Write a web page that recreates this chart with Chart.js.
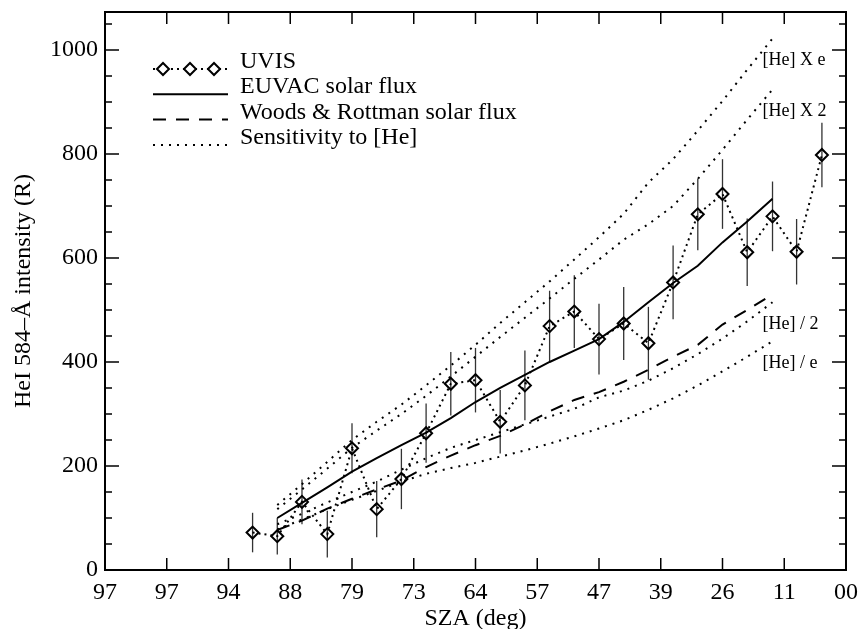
<!DOCTYPE html>
<html>
<head>
<meta charset="utf-8">
<script src="https://cdn.jsdelivr.net/npm/chart.js@4"></script>
<style>
  html, body { margin: 0; padding: 0; background: #fff; }
  #wrap { width: 859px; height: 629px; }
</style>
</head>
<body>
<div id="wrap"><canvas id="heChart" width="859" height="629"></canvas></div>
<script>
// ----- DATA -----
// x axis is an index scale (0..12) labelled with the SZA values
const xTickLabels = ["97", "97", "94", "88", "79", "73", "64", "57", "47", "39", "26", "11", "00"];

// UVIS observations
const uvisX = [2.39, 2.79, 3.19, 3.60, 4.00, 4.40, 4.80, 5.20, 5.60, 6.00, 6.40, 6.80,
               7.20, 7.60, 8.00, 8.40, 8.80, 9.20, 9.60, 10.00, 10.40, 10.81, 11.20, 11.61];
const uvisY = [72, 65, 131, 69, 234, 117, 175, 263, 358, 365, 285, 355,
               469, 497, 444, 474, 436, 553, 684, 723, 611, 680, 612, 798];
const uvisErr = [38, 35, 43, 45, 48, 54, 58, 57, 61, 62, 61, 67,
                 68, 70, 68, 70, 70, 71, 69, 67, 65, 67, 63, 62];

// model curves
const modelX = [2.79, 3.19, 3.60, 4.00, 4.40, 4.80, 5.20, 5.60, 6.00, 6.40, 6.80,
                7.20, 7.60, 8.00, 8.40, 8.80, 9.20, 9.60, 10.00, 10.40, 10.81];
const euvac = [100, 129, 159, 189, 215, 240, 264, 292, 323, 350, 375,
               400, 422, 444, 477, 515, 552, 585, 630, 670, 714];
const woodsRottman = [77, 95, 118, 137, 155, 172, 198, 220, 240, 258, 280,
                      305, 327, 342, 362, 385, 410, 433, 472, 500, 530];
const heTimesE = [125, 165, 208, 250, 285, 318, 355, 393, 433, 475, 515,
                  555, 597, 640, 685, 745, 790, 845, 902, 962, 1022];
const heTimes2 = [117, 155, 195, 235, 268, 300, 335, 372, 410, 448, 485,
                  522, 560, 597, 635, 665, 700, 752, 808, 866, 924];
const heOver2 = [88, 108, 130, 150, 170, 193, 215, 235, 250, 265, 280,
                 295, 310, 332, 345, 364, 388, 415, 445, 478, 515];
const heOverE = [78, 97, 117, 135, 152, 170, 185, 196, 206, 218, 230,
                 243, 257, 272, 288, 308, 330, 355, 382, 410, 440];
const sensLabels = ["[He] X e", "[He] X 2", "[He] / 2", "[He] / e"];

const yMax = 1073;

function pairs(xs, ys) {
    return xs.map((x, i) => ({ x: x, y: ys[i] }));
}

const SERIF = '"Liberation Serif", "DejaVu Serif", serif';
const DOT = [2, 6];

// ----- PLUGIN: frame, inward ticks, error bars, legend, curve labels -----
const paperPlot = {
    id: "paperPlot",
    beforeDatasetsDraw(chart) {
        const ctx = chart.ctx;
        const xs = chart.scales.x, ys = chart.scales.y;
        ctx.save();
        ctx.strokeStyle = "#333";
        ctx.lineWidth = 1.3;
        uvisX.forEach((x, i) => {
            const px = xs.getPixelForValue(x);
            ctx.beginPath();
            ctx.moveTo(px, ys.getPixelForValue(uvisY[i] - uvisErr[i]));
            ctx.lineTo(px, ys.getPixelForValue(uvisY[i] + uvisErr[i]));
            ctx.stroke();
        });
        ctx.restore();
    },
    afterDraw(chart) {
        const ctx = chart.ctx;
        const a = chart.chartArea;
        const xs = chart.scales.x, ys = chart.scales.y;
        ctx.save();

        // frame
        ctx.strokeStyle = "#000";
        ctx.lineWidth = 2;
        ctx.strokeRect(a.left, a.top, a.right - a.left, a.bottom - a.top);

        // ticks pointing inward
        ctx.lineWidth = 1.5;
        ctx.beginPath();
        for (let v = xs.min; v <= xs.max; v++) {
            const px = xs.getPixelForValue(v);
            ctx.moveTo(px, a.bottom); ctx.lineTo(px, a.bottom - 12);
            ctx.moveTo(px, a.top); ctx.lineTo(px, a.top + 12);
        }
        for (let v = 0; v <= ys.max; v += 50) {
            const py = ys.getPixelForValue(v);
            const len = v % 200 === 0 ? 14 : 7;
            ctx.moveTo(a.left, py); ctx.lineTo(a.left + len, py);
            ctx.moveTo(a.right, py); ctx.lineTo(a.right - len, py);
        }
        ctx.stroke();

        // labels at the end of the sensitivity curves
        ctx.fillStyle = "#000";
        ctx.font = "18px " + SERIF;
        ctx.textBaseline = "middle";
        ctx.textAlign = "left";
        [heTimesE, heTimes2, heOver2, heOverE].forEach((arr, k) => {
            const last = arr.length - 1;
            const px = xs.getPixelForValue(modelX[last]);
            const py = ys.getPixelForValue(arr[last]);
            ctx.fillText(sensLabels[k], px - 10, py + 22);
        });

        // legend
        const lx0 = a.left + 48, lx1 = a.left + 123, tx = a.left + 135;
        const rows = [0, 1, 2, 4];
        ctx.font = "24px " + SERIF;
        ctx.textBaseline = "alphabetic";
        rows.forEach((dsIndex, r) => {
            const ds = chart.data.datasets[dsIndex];
            const y = a.top + 57 + r * 25.3;
            ctx.strokeStyle = "#000";
            ctx.lineWidth = ds.borderWidth;
            ctx.setLineDash(ds.borderDash || []);
            ctx.beginPath();
            ctx.moveTo(lx0, y);
            ctx.lineTo(lx1, y);
            ctx.stroke();
            ctx.setLineDash([]);
            if (ds.pointRadius) {
                ctx.lineWidth = 2;
                [lx0 + 10, lx0 + 37, lx0 + 61].forEach(cx => {
                    const s = ds.pointRadius;
                    ctx.fillStyle = "#fff";
                    ctx.beginPath();
                    ctx.moveTo(cx - s, y); ctx.lineTo(cx, y - s);
                    ctx.lineTo(cx + s, y); ctx.lineTo(cx, y + s);
                    ctx.closePath();
                    ctx.fill();
                    ctx.stroke();
                });
            }
            ctx.fillStyle = "#000";
            ctx.fillText(ds.label, tx, y - 1);
        });
        ctx.restore();
    }
};

// ----- CHART -----
const sensStyle = {
    borderColor: "#000",
    borderWidth: 2,
    borderDash: DOT,
    pointRadius: 0,
    fill: false
};

new Chart(document.getElementById("heChart"), {
    type: "line",
    data: {
        datasets: [
            {
                label: "UVIS",
                data: pairs(uvisX, uvisY),
                borderColor: "#000",
                borderWidth: 2,
                borderDash: [2, 4],
                pointStyle: "rectRot",
                pointRadius: 6,
                pointBorderWidth: 2,
                pointBorderColor: "#000",
                pointBackgroundColor: "rgba(255,255,255,0)",
                fill: false
            },
            {
                label: "EUVAC solar flux",
                data: pairs(modelX, euvac),
                borderColor: "#000",
                borderWidth: 2,
                pointRadius: 0,
                fill: false
            },
            {
                label: "Woods & Rottman solar flux",
                data: pairs(modelX, woodsRottman),
                borderColor: "#000",
                borderWidth: 2,
                borderDash: [13, 10],
                pointRadius: 0,
                fill: false
            },
            Object.assign({ label: "[He] X e", data: pairs(modelX, heTimesE) }, sensStyle),
            Object.assign({ label: "Sensitivity to [He]", data: pairs(modelX, heTimes2) }, sensStyle),
            Object.assign({ label: "[He] / 2", data: pairs(modelX, heOver2) }, sensStyle),
            Object.assign({ label: "[He] / e", data: pairs(modelX, heOverE) }, sensStyle)
        ]
    },
    options: {
        responsive: false,
        devicePixelRatio: 1,
        animation: false,
        layout: { padding: { top: 12, right: 13, left: 0, bottom: 0 } },
        plugins: {
            legend: { display: false },
            tooltip: { enabled: false }
        },
        elements: { line: { tension: 0 } },
        scales: {
            x: {
                type: "linear",
                min: 0,
                max: 12,
                grid: { display: false, drawTicks: false },
                border: { display: false },
                ticks: {
                    stepSize: 1,
                    autoSkip: false,
                    maxRotation: 0,
                    padding: 8,
                    color: "#000",
                    font: { family: SERIF, size: 24 },
                    callback: v => xTickLabels[v]
                },
                title: {
                    display: true,
                    text: "SZA (deg)",
                    color: "#000",
                    padding: { top: 0, bottom: -2 },
                    font: { family: SERIF, size: 24, lineHeight: 1 }
                },
                afterFit: s => {
                    s.height = 59;
                    s.paddingLeft = 0;
                    s.paddingRight = 0;
                }
            },
            y: {
                type: "linear",
                min: 0,
                max: yMax,
                grid: { display: false, drawTicks: false },
                border: { display: false },
                ticks: {
                    stepSize: 200,
                    includeBounds: false,
                    padding: 7,
                    color: "#000",
                    font: { family: SERIF, size: 24 },
                    callback: v => (v % 200 === 0 ? String(v) : "")
                },
                title: {
                    display: true,
                    text: "HeI 584\u2013\u00C5 intensity (R)",
                    color: "#000",
                    padding: { top: 12, bottom: 0 },
                    font: { family: SERIF, size: 24, lineHeight: 1 }
                },
                afterFit: s => {
                    s.width = 105;
                    s.paddingTop = 0;
                    s.paddingBottom = 0;
                }
            }
        }
    },
    plugins: [paperPlot]
});
</script>
</body>
</html>
